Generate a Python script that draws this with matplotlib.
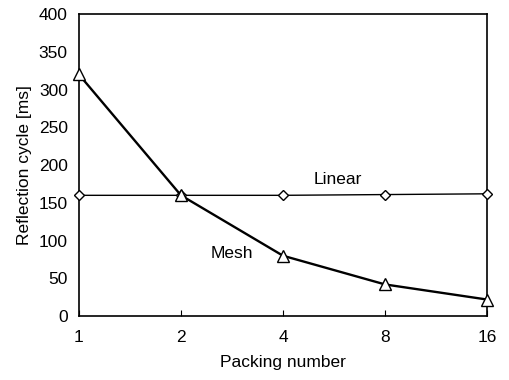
import matplotlib
matplotlib.use("Agg")
import matplotlib.pyplot as plt

# data
packing = ["1", "2", "4", "8", "16"]
linear = [160, 160, 160, 161, 162]
mesh = [320, 160, 80, 42, 22]

plt.rcParams['font.family'] = ['Liberation Sans', 'DejaVu Sans']

fig = plt.figure(figsize=(5.09, 3.80), dpi=100)
ax = fig.add_axes([0.155, 0.168, 0.802, 0.795])

x = list(range(len(packing)))
ax.plot(x, linear, color="black", lw=1.0, marker="D", ms=5,
        mfc="white", mec="black", mew=1.0, clip_on=False, zorder=3)
ax.plot(x, mesh, color="black", lw=1.7, marker="^", ms=8,
        mfc="white", mec="black", mew=1.0, clip_on=False, zorder=3)

ax.text(2.54, 181, "Linear", fontsize=12.5, ha="center", va="center")
ax.text(1.5, 83, "Mesh", fontsize=12.5, ha="center", va="center")

ax.set_xlim(0, len(packing) - 1)
ax.set_ylim(0, 400)
ax.set_xticks(x)
ax.set_xticklabels(packing)
ax.set_yticks(range(0, 401, 50))
ax.tick_params(axis="x", direction="in", length=4, width=0.8, labelsize=12.5, pad=10)
ax.tick_params(axis="y", length=0, labelsize=12.5, pad=8)
for s in ax.spines.values():
    s.set_linewidth(1.2)

ax.set_xlabel("Packing number", fontsize=12.5, labelpad=7)
ax.set_ylabel("Reflection cycle [ms]", fontsize=12.5, labelpad=5)

fig.savefig("out.png", dpi=100)
